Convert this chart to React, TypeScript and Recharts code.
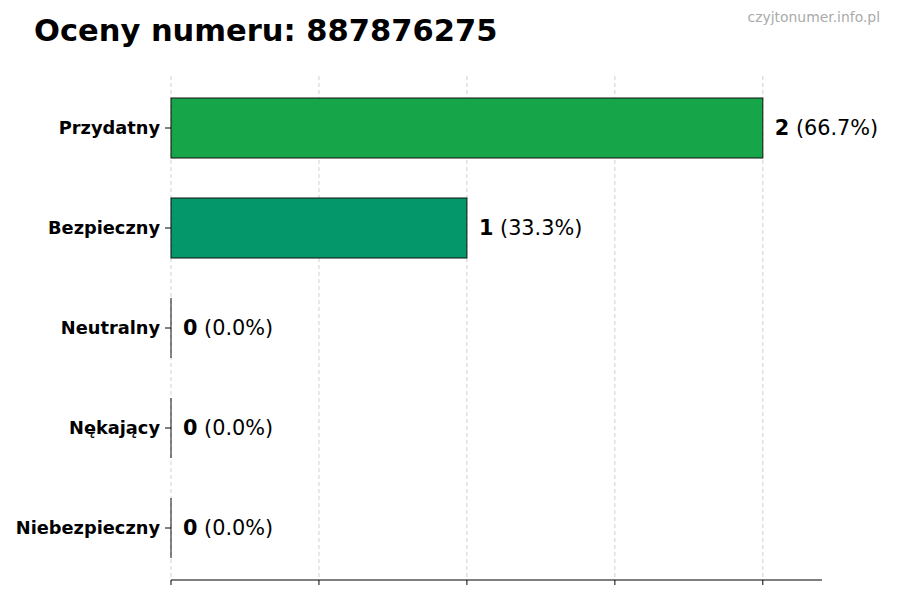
import { BarChart, Bar, XAxis, YAxis, CartesianGrid, Cell, LabelList } from 'recharts';

// Ratings for the number
const categories = ['Przydatny', 'Bezpieczny', 'Neutralny', 'Nękający', 'Niebezpieczny'];
const counts = [2, 1, 0, 0, 0];
const barColors = ['#17a549', '#04976a', '#9ca3af', '#f59e0b', '#dc2626'];
const xTicks = [0, 0.5, 1, 1.5, 2];

const TITLE = 'Oceny numeru: 887876275';
const WATERMARK = 'czyjtonumer.info.pl';

const total = counts.reduce((a, b) => a + b, 0);
const data = categories.map((name, i) => ({ name, value: counts[i] }));

const FONT = '"DejaVu Sans", sans-serif';

// bar with black outline; zero-width bars still show their edge
const OutlinedBar = (props: any) => {
  const { x, y, width, height, fill } = props;
  if (!width) {
    return <line x1={x} x2={x} y1={y} y2={y + height} stroke="#111" strokeWidth={1} />;
  }
  return <rect x={x} y={y} width={width} height={height} fill={fill} stroke="#111" strokeWidth={1} />;
};

const ValueLabel = (props: any) => {
  const { x, y, width, height, value } = props;
  const pct = total ? ((value / total) * 100).toFixed(1) : '0.0';
  return (
    <text x={x + width + 12} y={y + height / 2} dominantBaseline="central" fontFamily={FONT} fontSize={20.8} fill="#000">
      <tspan fontWeight="bold">{value}</tspan>
      <tspan> ({pct}%)</tspan>
    </text>
  );
};

// grid lines only at the real ticks, not at the domain end
const gridX = ({ xAxis }: any) => {
  const scale = xAxis?.scale;
  if (typeof scale === 'function') return xTicks.map((t) => scale(t));
  if (scale && typeof scale.map === 'function') return xTicks.map((t) => scale.map(t));
  return [];
};

export default function App() {
  return (
    <div style={{ position: 'absolute', left: 0, top: 0, width: 900, height: 600, background: '#fff' }}>
      <BarChart
        width={900}
        height={600}
        data={data}
        layout="vertical"
        margin={{ top: 76, right: 78, bottom: 0, left: 0 }}
      >
        <CartesianGrid horizontal={false} strokeDasharray="4 3" stroke="#d0d0d0" verticalCoordinatesGenerator={gridX} />
        <XAxis
          type="number"
          domain={[0, 2.2]}
          ticks={xTicks}
          height={20}
          tickFormatter={() => ''}
          axisLine={{ stroke: '#000' }}
          tickLine={{ stroke: '#000' }}
          tickSize={5}
        />
        <YAxis
          type="category"
          dataKey="name"
          width={171}
          axisLine={false}
          tickLine={{ stroke: '#000' }}
          tickSize={6}
          tickMargin={5}
          padding={{ top: 2, bottom: 2 }}
          tick={{ fill: '#000', fontFamily: FONT, fontWeight: 'bold', fontSize: 17.8 }}
        />
        <Bar dataKey="value" barSize={60} isAnimationActive={false} shape={<OutlinedBar />}>
          {data.map((d, i) => (
            <Cell key={d.name} fill={barColors[i]} />
          ))}
          <LabelList dataKey="value" content={<ValueLabel />} />
        </Bar>
      </BarChart>
      <svg width={900} height={600} style={{ position: 'absolute', left: 0, top: 0, pointerEvents: 'none' }}>
        <text x={34} y={41} fontFamily={FONT} fontWeight="bold" fontSize={30.5} fill="#000">
          {TITLE}
        </text>
        <text x={880} y={22} textAnchor="end" fontFamily={FONT} fontSize={13.9} fill="#aaaaaa">
          {WATERMARK}
        </text>
      </svg>
    </div>
  );
}
